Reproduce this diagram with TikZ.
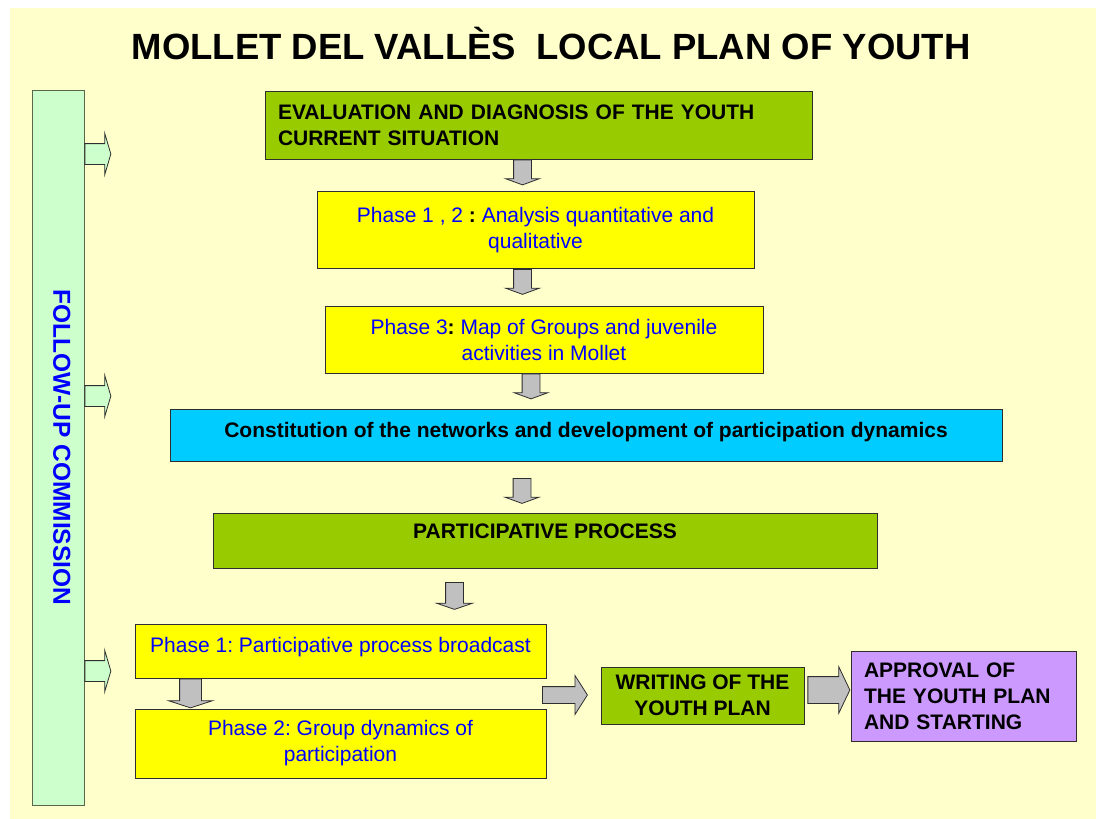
\documentclass[tikz,border=0pt]{standalone}
\usepackage{fontspec}
\setmainfont{Liberation Sans}
\frenchspacing
\usetikzlibrary{shapes.arrows}

\definecolor{paper}{HTML}{FFFFCC}
\definecolor{mint}{HTML}{CCFFCC}
\definecolor{leaf}{HTML}{99CC00}
\definecolor{lemon}{HTML}{FFFF00}
\definecolor{sky}{HTML}{00CCFF}
\definecolor{lilac}{HTML}{CC99FF}
\definecolor{arrowgray}{HTML}{C0C0C0}
\definecolor{inkblue}{HTML}{0000FF}
\definecolor{edge}{HTML}{2E2E2E}
\definecolor{baredge}{HTML}{5A654A}

\newcommand{\bodyfont}{\fontsize{21}{26}\selectfont}

\begin{document}
\begin{tikzpicture}[x=1pt,y=-1pt,
		box/.style={draw=edge,line width=0.9pt,inner sep=0pt,font=\bodyfont},
		downarrow/.style={single arrow,draw=edge,fill=arrowgray,line width=0.8pt,inner sep=8.5pt,
			shape border rotate=270,single arrow head indent=0pt,anchor=tail,
			minimum height=25,single arrow head extend=8,single arrow tip angle=140},
		rightarrow/.style={single arrow,draw=edge,fill=arrowgray,line width=0.8pt,
			single arrow head indent=0pt,anchor=tail}]
		\useasboundingbox (0,0) rectangle (1096,819);
		\fill[white] (0,0) rectangle (1096,819);
		\fill[paper] (10,8) rectangle (1096,819);

		\node (title) at (551,44) [font=\fontsize{36.5}{40}\selectfont\bfseries] {MOLLET DEL VALLÈS\ \ LOCAL PLAN OF YOUTH};

		% draw follow-up bar on the left
		\node (bar) at (58,447.5) [draw=baredge,fill=mint,line width=0.9pt,rotate=-90,minimum width=715,minimum height=52,
			inner sep=0pt,text height=17.5,text depth=8,text=inkblue,font=\fontsize{24.5}{28}\selectfont\bfseries]
			{FOLLOW-UP COMMISSION};

		% draw small arrows leaving the bar
		\foreach \y in {154,396,671}
		{
			\node (side-\y) at (bar.north |- 0,\y) [single arrow,draw=edge,fill=mint,line width=0.8pt,inner sep=10pt,
				anchor=tail,single arrow head indent=0pt,minimum height=26,
				single arrow head extend=10.5,single arrow tip angle=147] {};
		}

		% draw diagnosis part
		\node (eval) at (538.5,125) [box,fill=leaf,minimum width=547,minimum height=68,
			text width=521,align=left,font=\bodyfont\bfseries]
			{EVALUATION AND DIAGNOSIS OF THE YOUTH\\CURRENT SITUATION};
		\node (phase12) at (535.5,230) [box,fill=lemon,minimum width=437,minimum height=77,
			text=inkblue,align=center] {Phase 1 , 2 \textcolor{black}{\textbf{:}} Analysis quantitative and\\qualitative};
		\node (phase3) at (544,339.5) [box,fill=lemon,minimum width=438,minimum height=67,
			text=inkblue,align=center] {Phase 3\textcolor{black}{\textbf{:}} Map of Groups and juvenile\\activities in Mollet};

		\node (arr1) at (522.5,0 |- eval.south) [downarrow] {};
		\node (arr2) at (522.5,0 |- phase12.south) [downarrow] {};
		\node (arr3) at (531,0 |- phase3.south) [downarrow] {};

		% draw networks and participative process
		\node (networks) at (586,435) [box,fill=sky,minimum width=832,minimum height=52,
			text height=15,text depth=10,font=\bodyfont\bfseries]
			{Constitution of the networks and development of participation dynamics};
		\node (arr4) at (522,478) [downarrow] {};
		\node (process) at (545,540.5) [box,fill=leaf,minimum width=664,minimum height=55,
			text height=15,text depth=19,font=\bodyfont\bfseries] {PARTICIPATIVE PROCESS};
		\node (arr5) at (454.5,582) [downarrow,minimum height=27,single arrow head extend=9,
			single arrow tip angle=142] {};

		% draw the two phases of the process
		\node (broadcast) at (340.5,651) [box,fill=lemon,minimum width=411,minimum height=54,
			text height=15,text depth=12,text=inkblue] {Phase 1: Participative process broadcast};
		\node (groups) at (340.5,743.5) [box,fill=lemon,minimum width=411,minimum height=69,
			text=inkblue,align=center] {Phase 2: Group dynamics of\\participation};
		\node (arr6) at (190.5,0 |- broadcast.south) [downarrow,inner sep=10.5pt,minimum height=29,
			single arrow head extend=11,single arrow tip angle=144] {};

		% draw writing and approval
		\node (arr7) at (542,695) [rightarrow,inner sep=8pt,minimum height=45,
			single arrow head extend=11,single arrow tip angle=115] {};
		\node (writing) at (702.5,695.5) [box,fill=leaf,minimum width=203,minimum height=57,
			align=center,font=\bodyfont\bfseries] {WRITING OF THE\\YOUTH PLAN};
		\node (arr8) at (writing.east |- 0,690) [rightarrow,xshift=3,inner sep=13pt,minimum height=42,
			single arrow head extend=10,single arrow tip angle=129] {};
		\node (approval) at (963.5,696) [box,fill=lilac,minimum width=225,minimum height=90,
			text width=199,align=left,font=\bodyfont\bfseries] {APPROVAL OF\\THE YOUTH PLAN\\AND STARTING};
\end{tikzpicture}
\end{document}
